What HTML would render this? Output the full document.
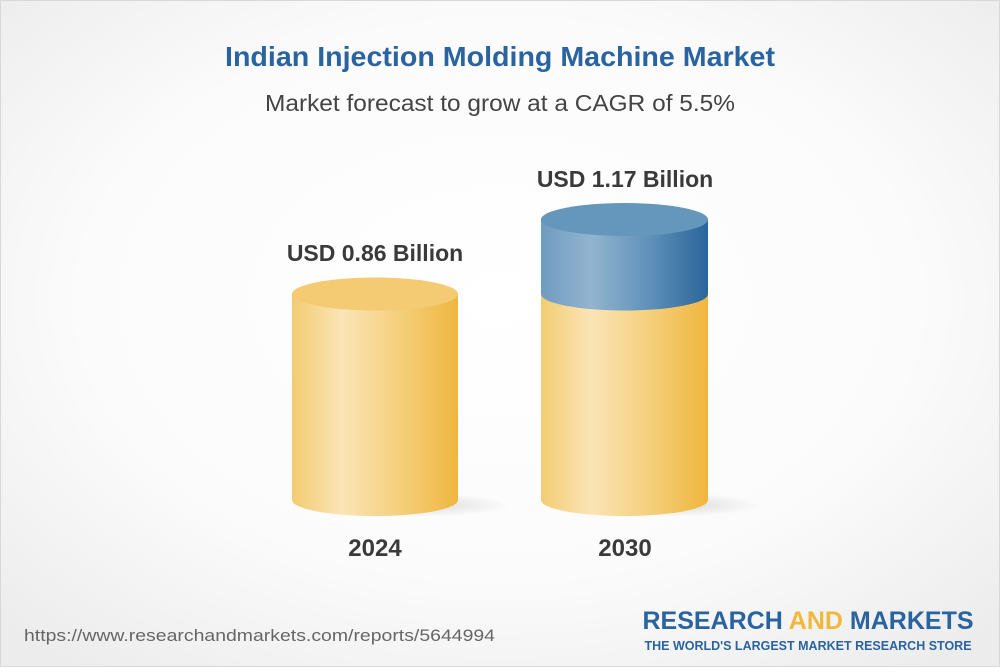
<!DOCTYPE html>
<html><head><style>
body{margin:0;width:1000px;height:667px;overflow:hidden;font-family:"Liberation Sans",sans-serif;}
</style></head><body>
<svg width="1000" height="667" xmlns="http://www.w3.org/2000/svg">
<defs>
<radialGradient id="bg" cx="50%" cy="45%" r="70%"><stop offset="0" stop-color="#ffffff"/><stop offset="0.6" stop-color="#fbfbfb"/><stop offset="1" stop-color="#ececec"/></radialGradient>
<linearGradient id="yb" x1="0" x2="1"><stop offset="0" stop-color="#f3cc72"/><stop offset="0.3" stop-color="#fbe4b6"/><stop offset="0.65" stop-color="#f5cf7c"/><stop offset="1" stop-color="#efb63e"/></linearGradient>
<linearGradient id="bb" x1="0" x2="1"><stop offset="0" stop-color="#6e9bc0"/><stop offset="0.3" stop-color="#93b4cf"/><stop offset="0.65" stop-color="#5f91ba"/><stop offset="1" stop-color="#2a659a"/></linearGradient>
<radialGradient id="sh" cx="50%" cy="50%" r="50%"><stop offset="0" stop-color="#000" stop-opacity="0.14"/><stop offset="1" stop-color="#000" stop-opacity="0"/></radialGradient>
</defs>
<rect x="0" y="0" width="1000" height="667" fill="url(#bg)"/>
<rect x="0.5" y="0.5" width="999" height="666" fill="none" stroke="#d8d8d8"/>
<text x="500" y="66" text-anchor="middle" font-size="28" font-weight="bold" fill="#2a64a0" textLength="550" lengthAdjust="spacingAndGlyphs">Indian Injection Molding Machine Market</text>
<text x="500" y="111" text-anchor="middle" font-size="23" fill="#444" textLength="470" lengthAdjust="spacingAndGlyphs">Market forecast to grow at a CAGR of 5.5%</text>

<ellipse cx="420" cy="505" rx="90" ry="12" fill="url(#sh)"/>
<ellipse cx="670" cy="505" rx="90" ry="12" fill="url(#sh)"/>

<path d="M292 294 L292 500 A83 16 0 0 0 458 500 L458 294 Z" fill="url(#yb)"/>
<ellipse cx="375" cy="294" rx="83" ry="16.5" fill="#f4cb73"/>
<path d="M541 294 L541 500 A83.5 16 0 0 0 708 500 L708 294 Z" fill="url(#yb)"/>
<path d="M541 219 L541 294 A83.5 16.5 0 0 0 708 294 L708 219 Z" fill="url(#bb)"/>
<ellipse cx="624.5" cy="219.5" rx="83.5" ry="16.5" fill="#6597bd"/>

<text x="375" y="261" text-anchor="middle" font-size="23" font-weight="bold" fill="#3a3a3a">USD 0.86 Billion</text>
<text x="625" y="187" text-anchor="middle" font-size="23" font-weight="bold" fill="#3a3a3a">USD 1.17 Billion</text>
<text x="375" y="556" text-anchor="middle" font-size="24" font-weight="bold" fill="#3a3a3a">2024</text>
<text x="625" y="556" text-anchor="middle" font-size="24" font-weight="bold" fill="#3a3a3a">2030</text>

<text x="24" y="641" font-size="17" fill="#666" textLength="471" lengthAdjust="spacingAndGlyphs">https://www.researchandmarkets.com/reports/5644994</text>
<text x="808" y="629" text-anchor="middle" font-size="25" font-weight="bold" fill="#2a64a0">RESEARCH <tspan fill="#f0b93b">AND</tspan> MARKETS</text>
<text x="808" y="650" text-anchor="middle" font-size="12.5" font-weight="bold" fill="#2a64a0">THE WORLD'S LARGEST MARKET RESEARCH STORE</text>
</svg>
</body></html>
